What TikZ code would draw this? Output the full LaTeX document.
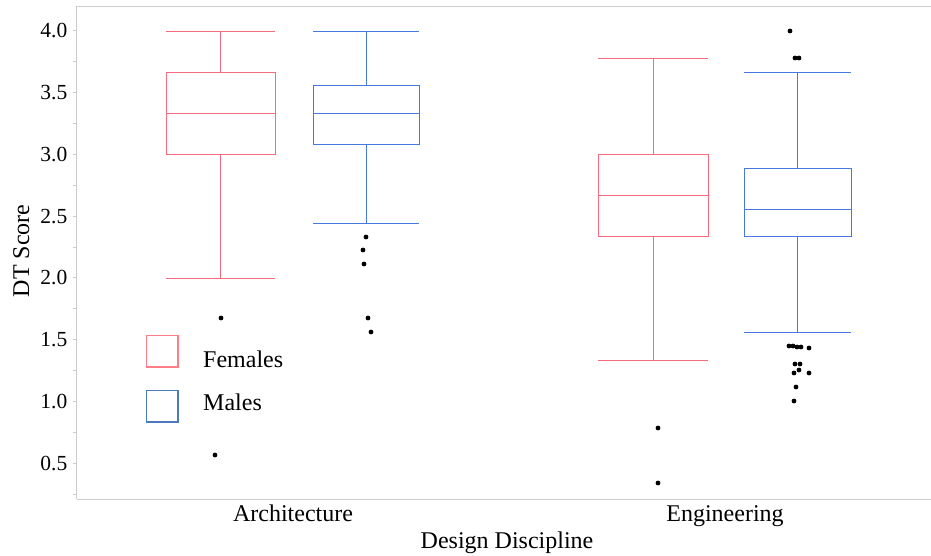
\documentclass[tikz,border=0pt]{standalone}
\usepackage{fontspec}
\setmainfont{Liberation Serif}
\definecolor{fpink}{RGB}{250,105,125}
\definecolor{mblue}{RGB}{70,120,225}
\definecolor{lpink}{RGB}{255,125,135}
\definecolor{lblue}{RGB}{75,120,190}
\definecolor{frame}{RGB}{205,205,205}
\tikzset{
  fbox/.style={draw=fpink, line width=0.9pt},
  mbox/.style={draw=mblue, line width=0.9pt},
  outl/.style={fill=black, draw=none},
  axis/.style={draw=frame, line width=1.4pt},
  tickl/.style={font=\fontsize{21.5}{23}\selectfont, anchor=east, inner sep=0pt},
  lab/.style={font=\fontsize{24}{26}\selectfont, inner sep=0pt},
}
\newcommand{\bplot}[9]{% style, x0, x1, lowwhisk, q1, med, q3, highwhisk
  \draw[#1] (#2,#5) rectangle (#3,#7);
  \draw[#1] (#2,#6) -- (#3,#6);
  \draw[#1] (#2,#4) -- (#3,#4);
  \draw[#1] (#2,#8) -- (#3,#8);
  \draw[#1] ({(#2+#3)/2},#4) -- ({(#2+#3)/2},#5);
  \draw[#1] ({(#2+#3)/2},#7) -- ({(#2+#3)/2},#8);
}
\begin{document}
\begin{tikzpicture}[x=1pt,y=1pt]
\useasboundingbox (0,0) rectangle (931,556);
% frame (pixel coords from top: y = 556 - py)
\draw[axis] (76.5,56.5) -- (76.5,549.5);
\draw[axis] (76.5,549.5) -- (931,549.5);
\draw[axis] (76.5,56.5) -- (931,56.5);
\begin{scope}[yshift=31pt, y=123.5pt]
  % ticks
  \foreach \v in {0.25,0.5,...,4.0} \draw[frame, line width=1pt] (72.5,\v) -- (76.5,\v);
  \foreach \v/\n in {0.5/t05,1.0/t10,1.5/t15,2.0/t20,2.5/t25,3.0/t30,3.5/t35,4.0/t40}
    \node[tickl] (\n) at (67.5,\v) {\v};
  % boxes
  \bplot{fbox}{166}{275}{2.0}{3.0}{3.333}{3.667}{4.0}{}
  \bplot{mbox}{313}{419}{2.444}{3.083}{3.333}{3.556}{4.0}{}
  \bplot{fbox}{598}{708}{1.333}{2.333}{2.667}{3.0}{3.778}{}
  \bplot{mbox}{744}{851}{1.556}{2.333}{2.556}{2.889}{3.667}{}
\end{scope}
% outliers (pixel coords)
\foreach \px/\py in {221/318,215/455,
  366/237,363/250,364/264,368/318,371/332,
  658/428,658/483,
  790/31,795/58,799/58,
  789/346,793/346,797/347,801/347,809/348,
  795/364,800/364,799/370,794/373,809/373,796/387,794/401}
  \fill[outl] (\px,556-\py) circle (2.4);
% legend
\draw[lpink, line width=1.6pt] (146.5,556-335.5) rectangle (178,556-367);
\draw[lblue, line width=1.6pt] (146.5,556-390.5) rectangle (178,556-422);
\node[lab, anchor=base west] (lf) at (203,556-368) {Females};
\node[lab, anchor=base west] (lm) at (203,556-411) {Males};
% axis labels
\node[lab, anchor=base] (xa) at (293,556-522) {Architecture};
\node[lab, anchor=base] (xe) at (725,556-522) {Engineering};
\node[lab, anchor=base] (xt) at (507,556-549) {Design Discipline};
\node[lab, rotate=90, anchor=base] (yt) at (29,556-251) {DT Score};
\end{tikzpicture}
\end{document}
